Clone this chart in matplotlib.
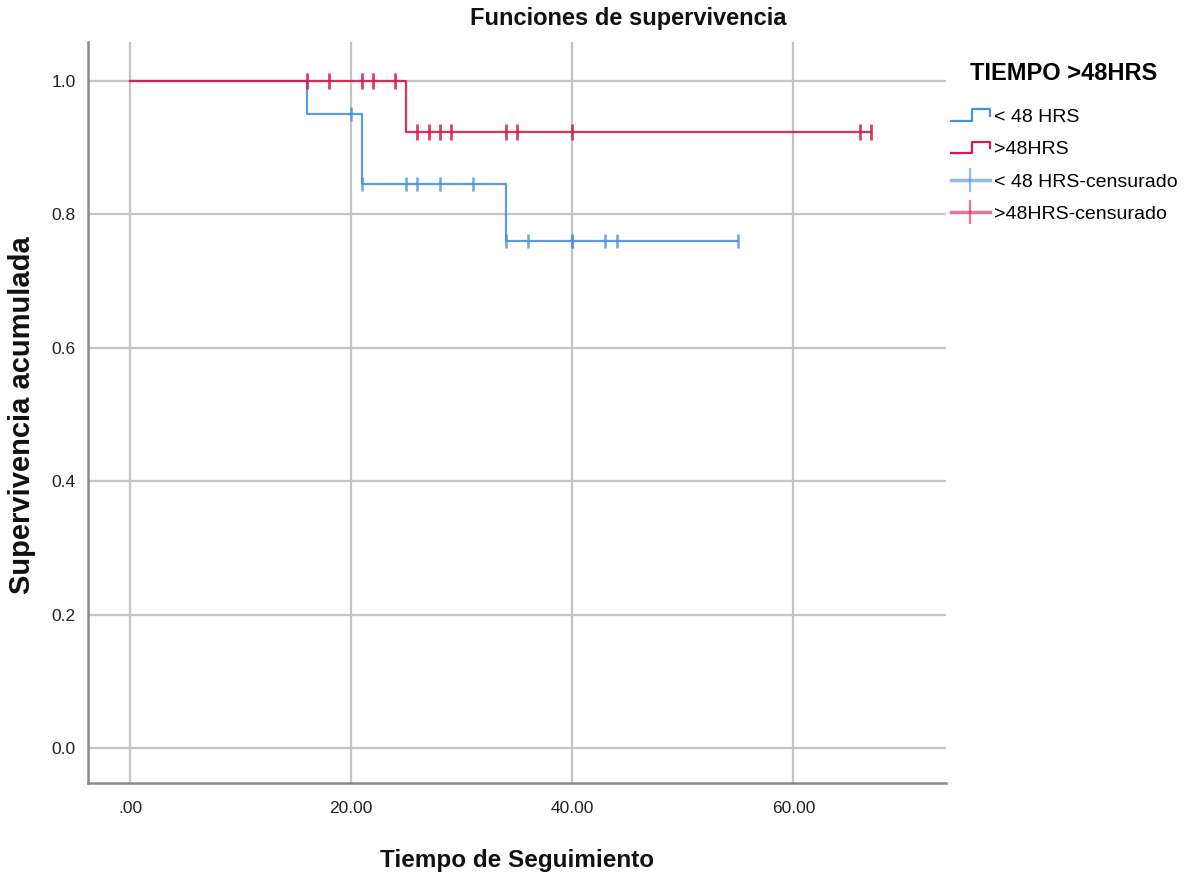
import numpy as np
import matplotlib
matplotlib.use("Agg")
import matplotlib.pyplot as plt
from matplotlib.lines import Line2D
from matplotlib.legend_handler import HandlerBase

plt.rcParams['font.family'] = ['Liberation Sans', 'DejaVu Sans']

# ---- data ----
group_labels = ["< 48 HRS", ">48HRS"]
lt48_step_t = [0, 16, 21, 34, 55]
lt48_step_s = [1.0, 0.95, 0.845, 0.76, 0.76]
lt48_cens_t = [20, 21, 25, 26, 28, 31, 34, 36, 40, 40, 43, 44, 55]
gt48_step_t = [0, 25, 67]
gt48_step_s = [1.0, 0.923, 0.923]
gt48_cens_t = [16, 18, 21, 22, 24, 26, 27, 28, 29, 34, 35, 40, 66, 67]
x_ticks = [0, 20, 40, 60]
x_tick_labels = [".00", "20.00", "40.00", "60.00"]
y_ticks = [0.0, 0.2, 0.4, 0.6, 0.8, 1.0]
y_tick_labels = ["0.0", "0.2", "0.4", "0.6", "0.8", "1.0"]

BLUE = "#4a8fe0"
RED = "#d81b4a"


def surv_at(t_steps, s_steps, t):
    idx = np.searchsorted(np.asarray(t_steps), t, side='right') - 1
    return np.asarray(s_steps)[idx]


fig = plt.figure(figsize=(11.84, 8.81), dpi=100)
ax = fig.add_axes([88 / 1184, 1 - 783 / 881, (946 - 88) / 1184, (783 - 42) / 881])

ax.set_xlim(-3.8, 73.8)
ax.set_ylim(-0.052, 1.058)
ax.set_xticks(x_ticks)
ax.set_xticklabels(x_tick_labels)
ax.set_yticks(y_ticks)
ax.set_yticklabels(y_tick_labels)
ax.grid(True, color="#c4c4c4", lw=1.6)
ax.set_axisbelow(True)
for sp in ['top', 'right']:
    ax.spines[sp].set_visible(False)
for sp in ['left', 'bottom']:
    ax.spines[sp].set_color("#8a8a8a")
    ax.spines[sp].set_linewidth(1.8)
ax.tick_params(length=0, labelsize=12.5, colors="#222222")
ax.tick_params(axis='x', pad=13)
ax.tick_params(axis='y', pad=9)

# curves
ax.step(lt48_step_t, lt48_step_s, where='post', color=BLUE, lw=1.6, alpha=0.9, zorder=3)
ax.step(gt48_step_t, gt48_step_s, where='post', color=RED, lw=1.6, alpha=0.9, zorder=4)
ax.plot(lt48_cens_t, surv_at(lt48_step_t, lt48_step_s, lt48_cens_t), ls='none',
        marker='|', markersize=10, mew=1.8, color=BLUE, alpha=0.8, zorder=3)
ax.plot(gt48_cens_t, surv_at(gt48_step_t, gt48_step_s, gt48_cens_t), ls='none',
        marker='|', markersize=11, mew=2.0, color=RED, alpha=0.85, zorder=4)

fig.text(628 / 1184, 1 - 19 / 881, "Funciones de supervivencia", ha='center', va='center',
         fontsize=17, fontweight='bold', color="#111111")
fig.text(517 / 1184, 1 - 860 / 881, "Tiempo de Seguimiento", ha='center', va='center',
         fontsize=17.5, fontweight='bold', color="#111111")
fig.text(22 / 1184, 1 - 415 / 881, "Supervivencia acumulada", ha='center', va='center',
         rotation=90, fontsize=21, fontweight='bold', color="#111111")


class StepHandler(HandlerBase):
    def create_artists(self, legend, orig_handle, xdescent, ydescent, width, height, fontsize, trans):
        x0, y0 = -xdescent, -ydescent
        xs = [x0, x0 + 0.55 * width, x0 + 0.55 * width, x0 + width, x0 + width]
        ys = [y0 + 0.1 * height, y0 + 0.1 * height, y0 + 0.95 * height, y0 + 0.95 * height, y0 + 0.45 * height]
        ln = Line2D(xs, ys, color=orig_handle.get_color(), lw=1.6)
        ln.set_transform(trans)
        return [ln]


h1 = Line2D([], [], color=BLUE)
h2 = Line2D([], [], color=RED)
h3 = Line2D([0, 1], [0, 0], color=BLUE, marker='|', markersize=17, mew=1.6, lw=2.5, alpha=0.6)
h4 = Line2D([0, 1], [0, 0], color=RED, marker='|', markersize=17, mew=1.6, lw=2.5, alpha=0.6)
leg = fig.legend([h1, h2, h3, h4],
                 [group_labels[0], group_labels[1], group_labels[0] + "-censurado", group_labels[1] + "-censurado"],
                 handler_map={h1: StepHandler(), h2: StepHandler()},
                 loc='upper left', bbox_to_anchor=(947 / 1184, 1 - 58 / 881),
                 frameon=False, title="TIEMPO >48HRS", alignment='center',
                 fontsize=14, title_fontproperties={'weight': 'bold', 'size': 17},
                 handlelength=2.0, handletextpad=0.2, labelspacing=0.76, numpoints=1,
                 borderaxespad=0, borderpad=0.2)
leg._legend_box.sep = 17

fig.savefig("out.png", dpi=100)
